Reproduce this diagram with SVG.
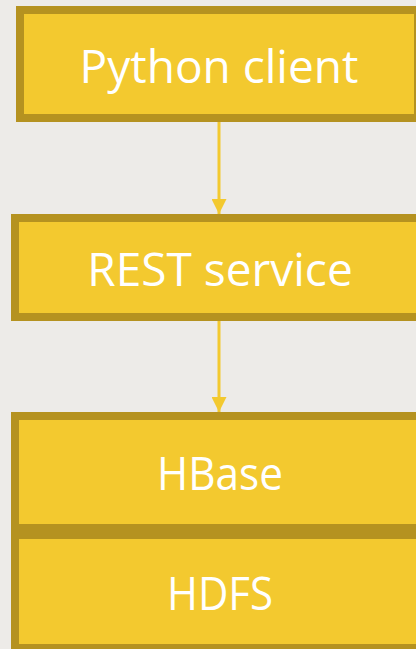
<svg xmlns="http://www.w3.org/2000/svg" width="416" height="649" viewBox="0 0 416 649">
<style>
.box{fill:#f3c92f;stroke:#b59220;stroke-width:8}
.lbl{font-family:"Open Sans","Noto Sans",sans-serif;font-size:46px;fill:#ffffff;text-anchor:middle}
.conn{stroke:#f3c92f;stroke-width:3;fill:none}
</style>
<defs>
<marker id="ah" markerUnits="userSpaceOnUse" markerWidth="16" markerHeight="15" refX="15" refY="7.5" orient="auto">
<path d="M0,0 L15,7.5 L0,15 Z" fill="#f3c92f"/>
</marker>
</defs>
<rect width="416" height="649" fill="#edebe8"/>
<g id="connectors">
<line class="conn" x1="219" y1="122" x2="219" y2="214" marker-end="url(#ah)"/>
<line class="conn" x1="219" y1="321" x2="219" y2="412" marker-end="url(#ah)"/>
</g>
<g id="python-client">
<rect class="box" x="20" y="10" width="398" height="108"/>
<text class="lbl" x="219" y="83">Python client</text>
</g>
<g id="rest-service">
<rect class="box" x="15" y="218" width="405" height="99"/>
<text class="lbl" x="220" y="286">REST service</text>
</g>
<g id="hbase">
<rect class="box" x="15" y="416" width="405" height="112"/>
<text class="lbl" x="220" y="490" textLength="126" lengthAdjust="spacingAndGlyphs">HBase</text>
</g>
<g id="hdfs">
<rect class="box" x="15" y="535" width="405" height="113"/>
<text class="lbl" x="220" y="610" textLength="106" lengthAdjust="spacingAndGlyphs">HDFS</text>
</g>
</svg>
